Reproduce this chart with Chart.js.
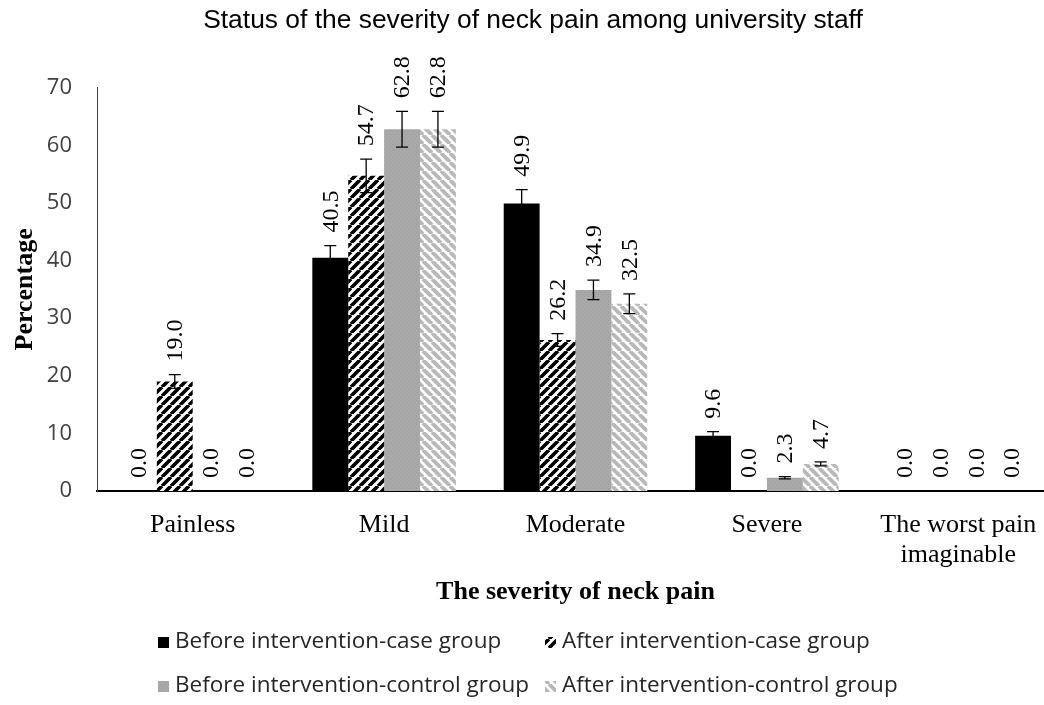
<!DOCTYPE html>
<html>
<head>
<meta charset="utf-8">
<script src="https://cdn.jsdelivr.net/npm/chart.js@4/dist/chart.umd.min.js"></script>
<style>
  html, body { margin: 0; padding: 0; background: #fff; overflow: hidden; }
  #wrap { width: 1044px; height: 705px; overflow: hidden; }
</style>
</head>
<body>
<div id="wrap"><canvas id="chart" width="1064" height="705"></canvas></div>
<script>
const categories = ['Painless', 'Mild', 'Moderate', 'Severe', ['The worst pain', 'imaginable']];
const seriesNames = [
  'Before intervention-case group',
  'After intervention-case group',
  'Before intervention-control group',
  'After intervention-control group'
];
const beforeCase = [0.0, 40.5, 49.9, 9.6, 0.0];
const afterCase = [19.0, 54.7, 26.2, 0.0, 0.0];
const beforeControl = [0.0, 62.8, 34.9, 2.3, 0.0];
const afterControl = [0.0, 62.8, 32.5, 4.7, 0.0];
// error bar half-widths
const beforeCaseErr = [0, 2.1, 2.4, 0.7, 0];
const afterCaseErr = [1.2, 2.9, 1.1, 0, 0];
const beforeControlErr = [0, 3.1, 1.7, 0.2, 0];
const afterControlErr = [0, 3.1, 1.7, 0.35, 0];
const yTicks = [0, 10, 20, 30, 40, 50, 60, 70];

const canvas = document.getElementById('chart');
const ctx = canvas.getContext('2d');

function stripes(fg, dir, size, width) {
  const c = document.createElement('canvas');
  c.width = size; c.height = size;
  const g = c.getContext('2d');
  g.fillStyle = '#ffffff';
  g.fillRect(0, 0, size, size);
  g.strokeStyle = fg;
  g.lineWidth = width;
  g.beginPath();
  for (let k = -1; k <= 1; k++) {
    if (dir === '/') {
      g.moveTo(k * size, size); g.lineTo(k * size + size, 0);
    } else {
      g.moveTo(k * size, 0); g.lineTo(k * size + size, size);
    }
  }
  g.stroke();
  return ctx.createPattern(c, 'repeat');
}

function speckle() {
  const c = document.createElement('canvas');
  c.width = 4; c.height = 4;
  const g = c.getContext('2d');
  g.fillStyle = '#a9a9a9';
  g.fillRect(0, 0, 4, 4);
  g.fillStyle = '#9c9c9c';
  g.fillRect(0, 0, 1, 1);
  g.fillRect(2, 2, 1, 1);
  return ctx.createPattern(c, 'repeat');
}

const fills = [
  '#000000',
  stripes('#000000', '/', 9, 3.6),
  speckle(),
  stripes('#b8b8b8', '\\', 9, 3.8)
];

const errs = [beforeCaseErr, afterCaseErr, beforeControlErr, afterControlErr];

const errorBarsAndLabels = {
  id: 'errorBarsAndLabels',
  afterDatasetsDraw(chart) {
    const c = chart.ctx;
    const y = chart.scales.y;
    chart.data.datasets.forEach((ds, di) => {
      const meta = chart.getDatasetMeta(di);
      meta.data.forEach((bar, i) => {
        const v = ds.data[i];
        const e = errs[di][i];
        const top = y.getPixelForValue(v + e);
        const bot = y.getPixelForValue(v - e);
        c.save();
        if (e > 0) {
          c.strokeStyle = '#000';
          c.lineWidth = 1.3;
          c.beginPath();
          c.moveTo(bar.x, top); c.lineTo(bar.x, bot);
          c.moveTo(bar.x - 6, top); c.lineTo(bar.x + 6, top);
          c.moveTo(bar.x - 6, bot); c.lineTo(bar.x + 6, bot);
          c.stroke();
        }
        c.translate(bar.x, top - 13);
        c.rotate(-Math.PI / 2);
        c.fillStyle = '#000';
        c.font = '24px "Liberation Serif", "Times New Roman", serif';
        c.textAlign = 'left';
        c.textBaseline = 'middle';
        c.fillText(v.toFixed(1), 0, 1);
        c.restore();
      });
    });
  },
  afterDraw(chart) {
    const c = chart.ctx;
    const items = [
      { x: 158, y: 642 }, { x: 545, y: 642 },
      { x: 158, y: 686 }, { x: 545, y: 686 }
    ];
    c.save();
    c.font = '22.5px "Open Sans", sans-serif';
    c.textBaseline = 'middle';
    items.forEach((p, i) => {
      c.fillStyle = fills[i];
      c.fillRect(p.x, p.y - 5, 11, 11);
      c.fillStyle = '#262626';
      c.fillText(seriesNames[i], p.x + 17, p.y);
    });
    c.restore();
  }
};

const datasets = [beforeCase, afterCase, beforeControl, afterControl].map((d, i) => ({
  label: seriesNames[i],
  data: d,
  backgroundColor: fills[i],
  borderWidth: 0,
  categoryPercentage: 0.75,
  barPercentage: 1.0
}));

new Chart(ctx, {
  type: 'bar',
  data: { labels: categories, datasets: datasets },
  options: {
    responsive: false,
    animation: false,
    layout: { padding: { left: 12, right: 10, top: 0, bottom: 97 } },
    plugins: {
      legend: { display: false },
      tooltip: { enabled: false },
      title: {
        display: true,
        text: 'Status of the severity of neck pain among university staff',
        color: '#000',
        font: { family: '"Liberation Sans", Arial, sans-serif', size: 26.4, weight: 'normal' },
        padding: { top: 5, bottom: 51 }
      }
    },
    scales: {
      x: {
        grid: { display: false, drawTicks: false },
        border: { display: true, color: '#000', width: 2 },
        ticks: {
          color: '#000',
          padding: 20,
          maxRotation: 0,
          font: { family: '"Liberation Serif", "Times New Roman", serif', size: 26, lineHeight: 1.12 }
        },
        title: {
          display: true,
          text: 'The severity of neck pain',
          color: '#000',
          font: { family: '"Liberation Serif", "Times New Roman", serif', size: 26, weight: 'bold' },
          padding: { top: 0, bottom: 0 }
        },
        afterFit(scale) { scale.height = 117; }
      },
      y: {
        min: 0,
        max: 70,
        afterBuildTicks(scale) { scale.ticks = yTicks.map(v => ({ value: v })); },
        grid: { display: false, drawTicks: false },
        border: { display: true, color: '#404040', width: 1 },
        ticks: {
          color: '#404040',
          padding: 25,
          font: { family: '"Open Sans", sans-serif', size: 22 }
        },
        title: {
          display: true,
          text: 'Percentage',
          color: '#000',
          font: { family: '"Liberation Serif", "Times New Roman", serif', size: 26, weight: 'bold', lineHeight: 1.0 },
          padding: { top: 0, bottom: 0 }
        },
        afterFit(scale) { scale.width = 85; }
      }
    }
  },
  plugins: [errorBarsAndLabels]
});
</script>
</body>
</html>
